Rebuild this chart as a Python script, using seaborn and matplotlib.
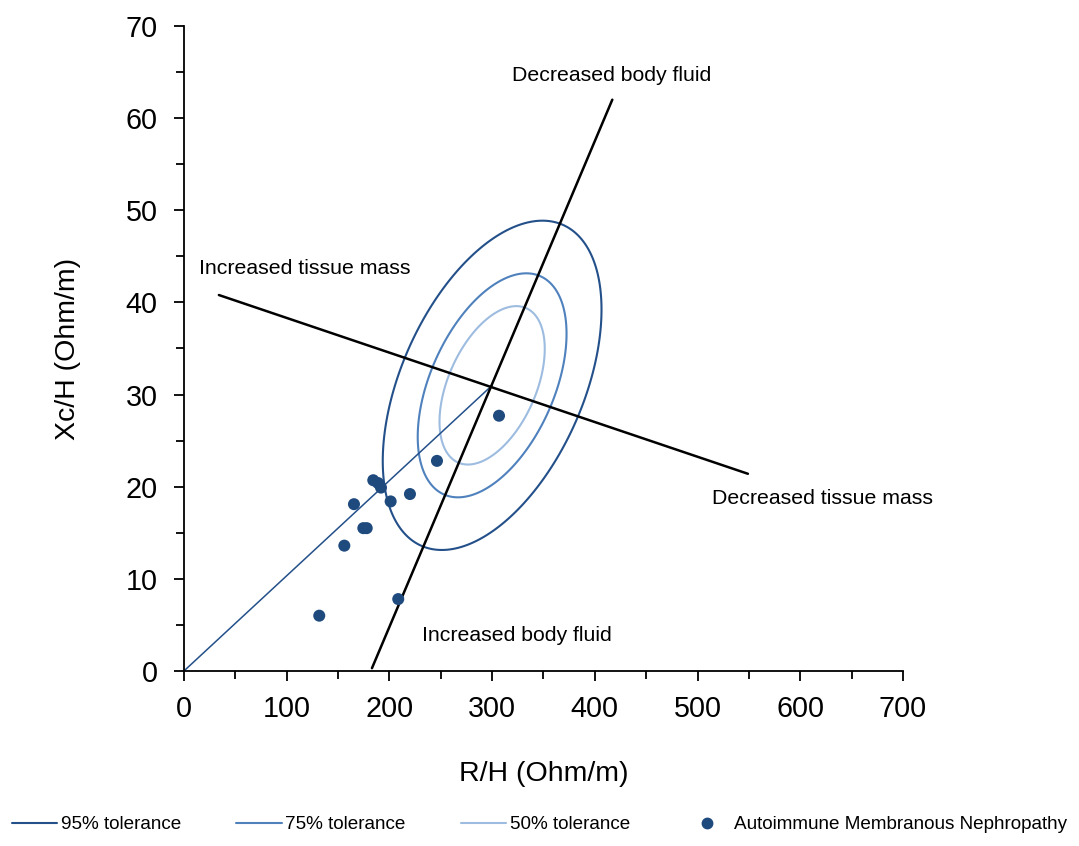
import numpy as np
import pandas as pd
import matplotlib
matplotlib.use("Agg")
import matplotlib.pyplot as plt
from matplotlib.lines import Line2D
from matplotlib.patches import Polygon
import seaborn as sns

# ---------------- data ----------------
# Patient points (R/H, Xc/H)
pts_r = [306.7, 246.3, 184.3, 188.9, 191.8, 165.5, 201.2, 220.0, 174.6, 177.9, 156.1, 208.6, 131.7]
pts_xc = [27.7, 22.8, 20.7, 20.4, 19.9, 18.1, 18.4, 19.2, 15.5, 15.5, 13.6, 7.8, 6.0]

# Reference population (bivariate normal) for tolerance ellipses
ref_mean_r = 300.0
ref_mean_xc = 31.0
ref_sd_r = 43.5
ref_sd_xc = 7.3
ref_corr = 0.46
tol_levels = [0.95, 0.75, 0.50]
tol_labels = ["95% tolerance", "75% tolerance", "50% tolerance"]
tol_colors = ["#24508a", "#4f81bd", "#9dbce0"]

# Guide lines (x endpoints, y endpoints)
vector_x = [0.0, 300.0]
vector_y = [0.0, 31.0]
fluid_x = [183.0, 417.0]
fluid_y = [0.3, 62.0]
tissue_x = [34.0, 549.0]
tissue_y = [40.8, 21.4]

annot_texts = ["Decreased body fluid", "Increased tissue mass",
               "Decreased tissue mass", "Increased body fluid"]
annot_x = [319.0, 14.5, 514.0, 231.5]
annot_y = [64.6, 43.7, 18.7, 3.8]

point_label = "Autoimmune Membranous Nephropathy"

# ---------------- style ----------------
sns.set_theme(style="ticks")
plt.rcParams['font.family'] = ['Liberation Sans', 'DejaVu Sans']

fig = plt.figure(figsize=(10.79, 8.46), dpi=100)
ax = fig.add_axes([0.1705, 0.2069, 0.6664, 0.7624])

# tolerance ellipses
cov = np.array([[ref_sd_r**2, ref_corr*ref_sd_r*ref_sd_xc],
                [ref_corr*ref_sd_r*ref_sd_xc, ref_sd_xc**2]])
L = np.linalg.cholesky(cov)
t = np.linspace(0, 2*np.pi, 720, endpoint=False)
circ = np.vstack([np.cos(t), np.sin(t)])
for p, lab, col in zip(tol_levels, tol_labels, tol_colors):
    k = np.sqrt(-2*np.log(1-p))
    e = (L @ circ) * k
    verts = np.column_stack([e[0] + ref_mean_r, e[1] + ref_mean_xc])
    ax.add_patch(Polygon(verts, closed=True, fill=False, edgecolor=col,
                         linewidth=1.5, joinstyle="round"))

# guide lines
sns.lineplot(x=vector_x, y=vector_y, color="#24508a", linewidth=1.1, ax=ax, legend=False)
sns.lineplot(x=fluid_x, y=fluid_y, color="black", linewidth=1.8, ax=ax, legend=False)
sns.lineplot(x=tissue_x, y=tissue_y, color="black", linewidth=1.8, ax=ax, legend=False)

# points
sns.scatterplot(x=pts_r, y=pts_xc, color="#1f4a7e", s=75, edgecolor="none", ax=ax,
                legend=False, zorder=5)

for txt, xx, yy in zip(annot_texts, annot_x, annot_y):
    ax.text(xx, yy, txt, fontsize=15.3, ha="left", va="center", color="black")

ax.set_xlim(0, 700)
ax.set_ylim(0, 70)
ax.set_xticks(np.arange(0, 701, 100))
ax.set_yticks(np.arange(0, 71, 10))
ax.set_xticks(np.arange(50, 700, 100), minor=True)
ax.set_yticks(np.arange(5, 70, 10), minor=True)
ax.tick_params(axis="both", which="major", direction="out", length=7, width=1.3,
               labelsize=20.7, color="black", labelcolor="black")
ax.tick_params(axis="x", which="major", pad=10)
ax.tick_params(axis="y", which="major", pad=12)
ax.tick_params(axis="both", which="minor", direction="out", length=6, width=1.3, color="black")
for s in ["top", "right"]:
    ax.spines[s].set_visible(False)
for s in ["left", "bottom"]:
    ax.spines[s].set_color("black")
    ax.spines[s].set_linewidth(1.3)

ax.set_xlabel("R/H (Ohm/m)", fontsize=20.5, color="black", labelpad=28)
ax.set_ylabel("Xc/H (Ohm/m)", fontsize=20.5, color="black", labelpad=32)

handles = [Line2D([0], [0], color=c, lw=1.5) for c in tol_colors]
handles.append(Line2D([0], [0], color="#1f4a7e", marker="o", linestyle="none", markersize=7.5))
labels = tol_labels + [point_label]
fig.legend(handles, labels, loc="lower center", bbox_to_anchor=(0.5, -0.005), ncol=4,
           frameon=False, fontsize=13.6, handlelength=2.4, handletextpad=0.2,
           columnspacing=2.9, labelcolor="black")

fig.savefig("out.png", dpi=100)
